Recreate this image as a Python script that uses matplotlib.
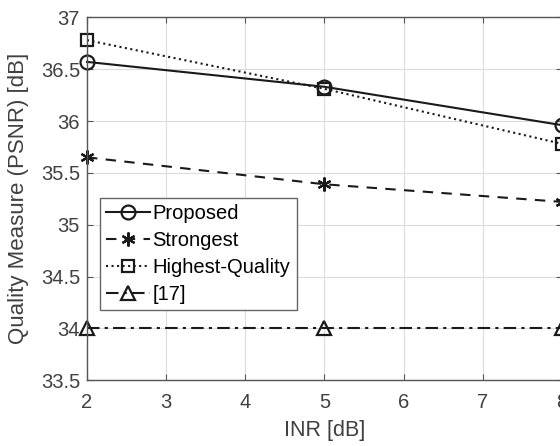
import matplotlib
matplotlib.use("Agg")
import matplotlib.pyplot as plt

plt.rcParams['font.family'] = ['Liberation Sans', 'DejaVu Sans']

inr = [2, 5, 8]
proposed = [36.57, 36.33, 35.96]
strongest = [35.65, 35.39, 35.22]
highest_quality = [36.78, 36.31, 35.78]
ref17 = [34.0, 34.0, 34.0]
labels = ['Proposed', 'Strongest', 'Highest-Quality', '[17]']
xticks = [2, 3, 4, 5, 6, 7, 8]
yticks = [33.5, 34, 34.5, 35, 35.5, 36, 36.5, 37]
yticklabels = ['33.5', '34', '34.5', '35', '35.5', '36', '36.5', '37']

fig = plt.figure(figsize=(5.6, 4.46), dpi=100)
ax = fig.add_axes([87/560, 65.7/446, (562-87)/560, (428.7-65.7)/446])

lc = '#1a1a1a'
kw = dict(color=lc, linewidth=1.5, markersize=10, markerfacecolor='none',
          markeredgewidth=1.6, clip_on=False)
ax.plot(inr, proposed, '-', marker='o', label=labels[0], **kw)
ax.plot(inr, strongest, '--', marker=(6, 2, 0), label=labels[1], dashes=(5, 4), **kw)
ax.plot(inr, highest_quality, ':', marker='s', label=labels[2], **{**kw, 'markersize': 9})
ax.plot(inr, ref17, '-.', marker='^', label=labels[3], dashes=(6, 2.5, 1.5, 2.5), **kw)

ax.set_xlim(2, 8)
ax.set_ylim(33.5, 37)
ax.set_xticks(xticks)
ax.set_yticks(yticks)
ax.set_yticklabels(yticklabels)
ax.grid(True, color='#dcdcdc', linewidth=0.8)
ax.set_axisbelow(True)
for s in ax.spines.values():
    s.set_color('#555555')
    s.set_linewidth(1.0)
ax.tick_params(direction='in', length=4, colors='#555555', labelcolor='#404040',
               labelsize=14.5, top=True, right=True)
ax.tick_params(axis='y', pad=5)
ax.tick_params(axis='x', pad=9)
ax.set_xlabel('INR [dB]', fontsize=15.5, color='#404040')
ax.set_ylabel('Quality Measure (PSNR) [dB]', fontsize=16, color='#404040')
ax.xaxis.set_label_coords(0.5, -0.108)
ax.yaxis.set_label_coords(-0.122, 0.5)

leg = ax.legend(loc='upper left', bbox_to_anchor=(0.027, 0.502), borderaxespad=0,
                fontsize=14.5, frameon=True, fancybox=False, framealpha=1,
                edgecolor='#666666', handlelength=2.2, handletextpad=0.12,
                labelspacing=0.4, borderpad=0.3)
leg.get_frame().set_linewidth(1.0)

fig.savefig('out.png', dpi=100)
